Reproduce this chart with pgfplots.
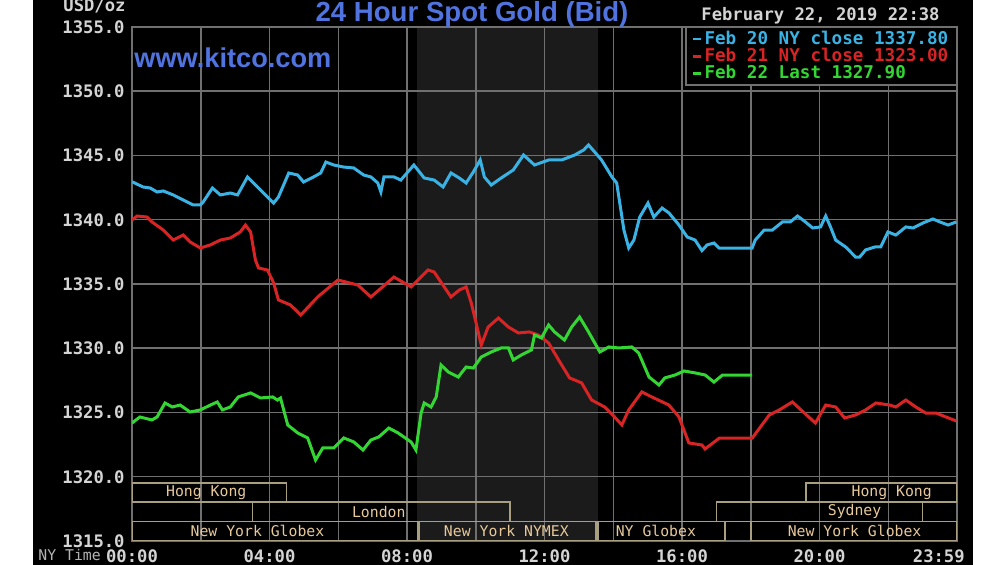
\documentclass[border=0pt]{standalone}
\usepackage{fontspec}
\usepackage{pgfplots}
\pgfplotsset{compat=1.18}
\newfontfamily\kmono{DejaVu Sans Mono}
\newfontfamily\ksans{Liberation Sans}
\definecolor{kblue}{HTML}{3AB2E4}
\definecolor{kred}{HTML}{D82424}
\definecolor{kgreen}{HTML}{33D633}
\definecolor{ktitle}{HTML}{5073E0}
\definecolor{kgrid}{HTML}{707070}
\definecolor{kshade}{HTML}{1B1B1B}
\definecolor{kbox}{HTML}{A89E80}
\definecolor{ktext}{HTML}{E6C89A}
\definecolor{klabel}{HTML}{D4D4D4}
\newcommand{\tickfont}{\kmono\bfseries\fontsize{8.6}{10}\selectfont}
\newcommand{\sessfont}{\kmono\fontsize{7.4}{9}\selectfont}

\begin{document}
\begin{tikzpicture}
% page in reference pixels (1px = 0.5pt), plot area lower left at (132,24)
\begin{scope}[shift={(-66pt,-12pt)}, x=0.5pt, y=0.5pt]
\fill[white] (0,0) rectangle (1004,565);
\fill[black] (33,0) rectangle (973,565);
% NYMEX trading hours
\fill[kshade] (417,24) rectangle (598,538);
\end{scope}

\begin{axis}[
  at={(0pt,0pt)}, anchor=south west, scale only axis,
  width=412.5pt, height=257pt,
  xmin=0, xmax=24, ymin=1315, ymax=1355,
  axis line style={kgrid, line width=0.75pt},
  xtick={0,4,8,12,16,20},
  xticklabels={00:00,04:00,08:00,12:00,16:00,20:00},
  minor xtick={2,6,10,14,18,22},
  extra x ticks={23.47}, extra x tick labels={23:59},
  extra x tick style={grid=none},
  ytick={1315,1320,...,1355},
  yticklabels={1315.0,1320.0,1325.0,1330.0,1335.0,1340.0,1345.0,1350.0,1355.0},
  major tick length=0pt, minor tick length=0pt,
  xmajorgrids, xminorgrids, ymajorgrids,
  grid style={kgrid, line width=0.75pt},
  minor grid style={kgrid, line width=0.75pt},
  ticklabel style={font=\tickfont, text=klabel, inner sep=0pt},
  yticklabel style={anchor=east, xshift=-3.5pt},
  xticklabel style={anchor=north, yshift=-4.3pt},
  legend style={at={(1,1)}, anchor=north east, draw=kgrid, line width=0.75pt,
    fill=black, font=\kmono\bfseries\fontsize{8.8}{10}\selectfont,
    inner xsep=3pt, inner ysep=0.5pt, row sep=-1.5pt, cells={anchor=west},
    nodes={inner sep=1pt}},
  legend image code/.code={\draw[#1, line width=1.3pt] (0pt,0pt) -- (4pt,0pt);},
]
\addplot[kblue, line width=1.5pt] coordinates {
(0,1342.96) (0.32,1342.55) (0.53,1342.47) (0.73,1342.16) (0.91,1342.24) (1.20,1341.93)
(1.49,1341.54) (1.78,1341.15) (1.99,1341.15) (2.07,1341.38) (2.34,1342.47) (2.57,1341.93)
(2.86,1342.08) (3.07,1341.93) (3.36,1343.33) (3.65,1342.55) (3.94,1341.77) (4.12,1341.30)
(4.26,1341.77) (4.56,1343.64) (4.82,1343.48) (4.99,1342.94) (5.28,1343.33) (5.49,1343.64)
(5.64,1344.49) (5.87,1344.26) (6.16,1344.10) (6.45,1344.03) (6.74,1343.48) (6.95,1343.33)
(7.15,1342.86) (7.24,1342.16) (7.33,1343.33) (7.62,1343.33) (7.82,1343.09) (8.20,1344.26)
(8.50,1343.25) (8.79,1343.09) (9.05,1342.55) (9.28,1343.64) (9.52,1343.25) (9.72,1342.86)
(9.93,1343.72) (10.13,1344.65) (10.25,1343.33) (10.45,1342.70) (10.74,1343.25) (11.09,1343.87)
(11.39,1345.04) (11.71,1344.26) (12.12,1344.65) (12.50,1344.65) (12.88,1345.04) (13.14,1345.43)
(13.28,1345.82) (13.46,1345.27) (13.66,1344.65) (13.96,1343.33) (14.10,1342.86) (14.19,1341.30)
(14.31,1339.20) (14.45,1337.80) (14.60,1338.42) (14.77,1340.21) (15.01,1341.30) (15.18,1340.21)
(15.42,1340.91) (15.62,1340.53) (15.91,1339.59) (16.15,1338.66) (16.38,1338.42) (16.58,1337.60)
(16.73,1338.04) (16.93,1338.19) (17.08,1337.80) (18.04,1337.80) (18.13,1338.42) (18.39,1339.20)
(18.63,1339.20) (18.92,1339.83) (19.15,1339.83) (19.36,1340.29) (19.59,1339.83) (19.80,1339.36)
(20.03,1339.44) (20.18,1340.29) (20.32,1339.44) (20.47,1338.42) (20.76,1337.88) (21.05,1337.10)
(21.17,1337.10) (21.34,1337.65) (21.61,1337.88) (21.78,1337.88) (21.99,1339.05) (22.22,1338.81)
(22.51,1339.44) (22.72,1339.36) (23.01,1339.75) (23.30,1340.06) (23.50,1339.83) (23.74,1339.59)
(23.98,1339.83)};
\addlegendentry{\textcolor{kblue}{Feb 20 NY close 1337.80}}
\addplot[kred, line width=1.5pt] coordinates {
(0,1339.98) (0.15,1340.29) (0.44,1340.21) (0.58,1339.83) (0.91,1339.20) (1.20,1338.42)
(1.49,1338.81) (1.69,1338.27) (1.99,1337.80) (2.28,1338.04) (2.57,1338.42) (2.86,1338.58)
(3.15,1339.05) (3.30,1339.59) (3.45,1339.05) (3.59,1336.87) (3.68,1336.25) (3.94,1336.09)
(4.12,1335.08) (4.26,1333.76) (4.61,1333.37) (4.91,1332.59) (5.40,1333.99) (5.99,1335.31)
(6.57,1334.92) (6.95,1333.99) (7.62,1335.54) (8.12,1334.77) (8.61,1336.09) (8.79,1335.93)
(9.28,1333.99) (9.52,1334.53) (9.72,1334.77) (9.87,1333.52) (10.01,1331.97) (10.16,1330.25)
(10.36,1331.65) (10.66,1332.35) (10.95,1331.65) (11.24,1331.19) (11.56,1331.27) (11.82,1331.03)
(12.12,1330.41) (12.41,1329.09) (12.73,1327.69) (13.08,1327.30) (13.37,1325.97) (13.75,1325.43)
(14.04,1324.65) (14.25,1324.03) (14.45,1325.20) (14.83,1326.60) (15.12,1326.21) (15.62,1325.58)
(15.91,1324.65) (16.20,1322.63) (16.58,1322.47) (16.67,1322.16) (17.08,1323.00) (18.04,1323.00)
(18.54,1324.81) (18.83,1325.20) (19.21,1325.82) (19.56,1324.96) (19.88,1324.18) (20.18,1325.58)
(20.47,1325.43) (20.73,1324.57) (21.05,1324.81) (21.34,1325.20) (21.64,1325.74) (22.04,1325.58)
(22.22,1325.43) (22.51,1325.97) (22.80,1325.43) (23.09,1324.96) (23.39,1324.96) (23.68,1324.65)
(23.98,1324.34)};
\addlegendentry{\textcolor{kred}{Feb 21 NY close 1323.00}}
\addplot[kgreen, line width=1.5pt] coordinates {
(0,1324.18) (0.23,1324.65) (0.58,1324.42) (0.73,1324.65) (0.96,1325.74) (1.17,1325.43)
(1.40,1325.58) (1.69,1325.04) (1.99,1325.20) (2.28,1325.58) (2.48,1325.82) (2.63,1325.20)
(2.86,1325.43) (3.09,1326.21) (3.45,1326.52) (3.74,1326.13) (4.09,1326.21) (4.23,1325.97)
(4.32,1326.13) (4.53,1324.03) (4.82,1323.41) (5.11,1323.02) (5.34,1321.30) (5.55,1322.24)
(5.87,1322.24) (6.16,1323.02) (6.45,1322.71) (6.72,1322.08) (6.95,1322.86) (7.18,1323.10)
(7.47,1323.79) (7.74,1323.41) (8.12,1322.70) (8.26,1322.08) (8.41,1324.96) (8.50,1325.74)
(8.70,1325.43) (8.85,1326.21) (8.99,1328.70) (9.20,1328.15) (9.49,1327.76) (9.72,1328.54)
(9.93,1328.46) (10.16,1329.32) (10.45,1329.71) (10.74,1330.02) (10.95,1330.02) (11.09,1329.09)
(11.33,1329.48) (11.62,1329.87) (11.71,1331.03) (11.91,1330.80) (12.12,1331.81) (12.29,1331.27)
(12.58,1330.64) (12.79,1331.65) (13.02,1332.43) (13.28,1331.27) (13.61,1329.71) (13.87,1330.10)
(14.16,1330.02) (14.54,1330.10) (14.74,1329.63) (15.04,1327.76) (15.33,1327.14) (15.50,1327.69)
(15.80,1327.92) (16.06,1328.23) (16.38,1328.08) (16.67,1327.92) (16.93,1327.37) (17.17,1327.90)
(18.04,1327.90)};
\addlegendentry{\textcolor{kgreen}{Feb 22 Last 1327.90}}

% trading sessions
\draw[kbox, line width=0.75pt] (axis cs:0,1318.05) rectangle (axis cs:4.5,1319.5);
\draw[kbox, line width=0.75pt] (axis cs:19.6,1318.05) rectangle (axis cs:24,1319.5);
\draw[kbox, line width=0.75pt] (axis cs:3.5,1316.5) rectangle (axis cs:11,1318.05);
\draw[kbox, line width=0.75pt] (axis cs:17,1316.5) rectangle (axis cs:23,1318.05);
\draw[kbox, line width=0.75pt] (axis cs:0,1315) rectangle (axis cs:8.3,1316.5);
\draw[kbox, line width=0.75pt] (axis cs:8.35,1315) rectangle (axis cs:13.5,1316.5);
\draw[kbox, line width=0.75pt] (axis cs:13.55,1315) rectangle (axis cs:17.25,1316.5);
\draw[kbox, line width=0.75pt] (axis cs:18,1315) rectangle (axis cs:24,1316.5);
\node[font=\sessfont, text=ktext] at (axis cs:2.16,1318.78) {Hong Kong};
\node[font=\sessfont, text=ktext] at (axis cs:22.1,1318.78) {Hong Kong};
\node[font=\sessfont, text=ktext] at (axis cs:7.18,1317.28) {London};
\node[font=\sessfont, text=ktext] at (axis cs:21.02,1317.28) {Sydney};
\node[font=\sessfont, text=ktext] at (axis cs:3.65,1315.75) {New York Globex};
\node[font=\sessfont, text=ktext] at (axis cs:10.89,1315.75) {New York NYMEX};
\node[font=\sessfont, text=ktext] at (axis cs:15.24,1315.75) {NY Globex};
\node[font=\sessfont, text=ktext] at (axis cs:21.02,1315.75) {New York Globex};
\end{axis}

\begin{scope}[shift={(-66pt,-12pt)}, x=0.5pt, y=0.5pt]
\node[anchor=base, font=\ksans\bfseries\fontsize{13.8}{16}\selectfont, text=ktitle] at (472,543) {24 Hour Spot Gold (Bid)};
\node[anchor=base west, inner sep=0pt, font=\ksans\bfseries\fontsize{13.6}{16}\selectfont, text=ktitle] at (134,497) {www.kitco.com};
\node[anchor=base west, inner sep=0pt, font=\tickfont, text=klabel] at (63,553) {USD/oz};
\node[anchor=base west, inner sep=0pt, font=\tickfont, text=klabel] at (701,544) {February 22, 2019 22:38};
\node[anchor=base west, inner sep=0pt, font=\kmono\fontsize{7.4}{9}\selectfont, text=klabel!85!black] at (38,4) {NY Time};
% the page is exactly the reference frame
\pgfresetboundingbox
\path[use as bounding box] (0,0) rectangle (1004,565);
\end{scope}
\end{tikzpicture}
\end{document}
